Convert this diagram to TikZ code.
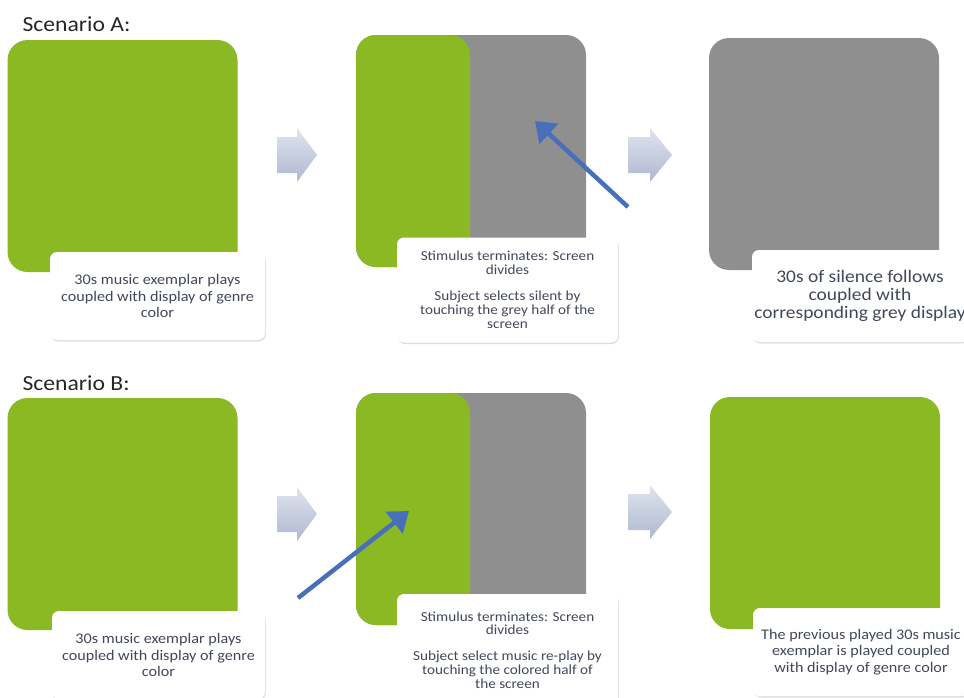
\documentclass[tikz,border=0pt]{standalone}
\usepackage{fontspec}
\setmainfont{Carlito}[FakeStretch=1.1]
\usetikzlibrary{arrows.meta,shadows}
\definecolor{genre}{RGB}{138,185,36}
\definecolor{silent}{RGB}{143,143,143}
\definecolor{touchblue}{RGB}{72,112,186}
\definecolor{captext}{RGB}{66,72,92}
\definecolor{chevlight}{RGB}{224,228,238}
\definecolor{chevdark}{RGB}{174,184,208}
\tikzset{
  screen/.style={rounded corners=20pt, minimum width=230pt, minimum height=232pt, inner sep=0pt},
  splitscreen/.style={screen, fill=silent,
    path picture={\fill[genre] (path picture bounding box.north west) rectangle ([xshift=-1pt]path picture bounding box.south);}},
  capbox/.style={fill=white, rounded corners=7pt, inner sep=0pt, align=center, text=captext,
    drop shadow={shadow xshift=0.8pt, shadow yshift=-1.5pt, opacity=0.25}},
  chevron/.style={top color=chevlight, bottom color=chevdark},
  tap/.style={-{Triangle[length=19pt,width=27pt]}, line width=4.5pt, touchblue},
  title/.style={anchor=base west, text=black!85, font=\fontsize{21.5}{25}\selectfont}
}
\begin{document}
\begin{tikzpicture}[x=1pt, y=-1pt]
  \useasboundingbox (0,0) rectangle (964,697);
  % scenario A
  \node[title] (titleA) at (19,31) {Scenario A:};
  \node[screen, fill=genre] (A1) at (122.5,156) {};
  \node[capbox, minimum width=215pt, minimum height=88pt, font=\fontsize{14.7}{16.5}\selectfont] (capA1) at (157.5,296)
    {30s music exemplar plays\\coupled with display of genre\\color};
  \shade[chevron] (277,137) -- (297,137) -- (297,128) -- (317,155) -- (297,182) -- (297,173) -- (277,173) -- cycle;
  \node[splitscreen] (A2) at (471,151) {};
  \node[capbox, minimum width=221pt, minimum height=105pt, font=\fontsize{13.8}{14}\selectfont] (capA2) at (507.5,290)
    {Stimulus terminates: Screen\\divides\\[12pt]Subject selects silent by\\touching the grey half of the\\screen};
  \coordinate (touchA) at (628,207);
  \coordinate (aimA) at (535,121);
  \draw[tap] (touchA) -- (aimA);
  \shade[chevron] (628,137) -- (650,137) -- (650,128) -- (672,155) -- (650,182) -- (650,173) -- (628,173) -- cycle;
  \node[screen, fill=silent] (A3) at (824,154) {};
  \node[capbox, minimum width=216pt, minimum height=92pt, font=\fontsize{17.7}{18.3}\selectfont] (capA3) at (860,296)
    {30s of silence follows\\coupled with\\corresponding grey display};
  % scenario B
  \node[title] (titleB) at (19,390) {Scenario B:};
  \node[screen, fill=genre] (B1) at (122.5,514) {};
  \node[capbox, minimum width=213pt, minimum height=88pt, font=\fontsize{14.7}{16.5}\selectfont] (capB1) at (158.5,655)
    {30s music exemplar plays\\coupled with display of genre\\color};
  \shade[chevron] (277,496) -- (297,496) -- (297,487) -- (317,514) -- (297,541) -- (297,532) -- (277,532) -- cycle;
  \node[splitscreen] (B2) at (471,509) {};
  \node[capbox, minimum width=221pt, minimum height=112pt, font=\fontsize{13.8}{13.8}\selectfont] (capB2) at (507.5,650)
    {Stimulus terminates: Screen\\divides\\[12pt]Subject select music re-play by\\touching the colored half of\\the screen};
  \coordinate (touchB) at (298,598);
  \coordinate (aimB) at (409,511);
  \draw[tap] (touchB) -- (aimB);
  \shade[chevron] (628,494) -- (650,494) -- (650,485) -- (672,512) -- (650,539) -- (650,530) -- (628,530) -- cycle;
  \node[screen, fill=genre] (B3) at (825,513) {};
  \node[capbox, minimum width=216pt, minimum height=88pt, font=\fontsize{14.7}{16.7}\selectfont] (capB3) at (861,652)
    {The previous played 30s music\\exemplar is played coupled\\with display of genre color};
\end{tikzpicture}
\end{document}
